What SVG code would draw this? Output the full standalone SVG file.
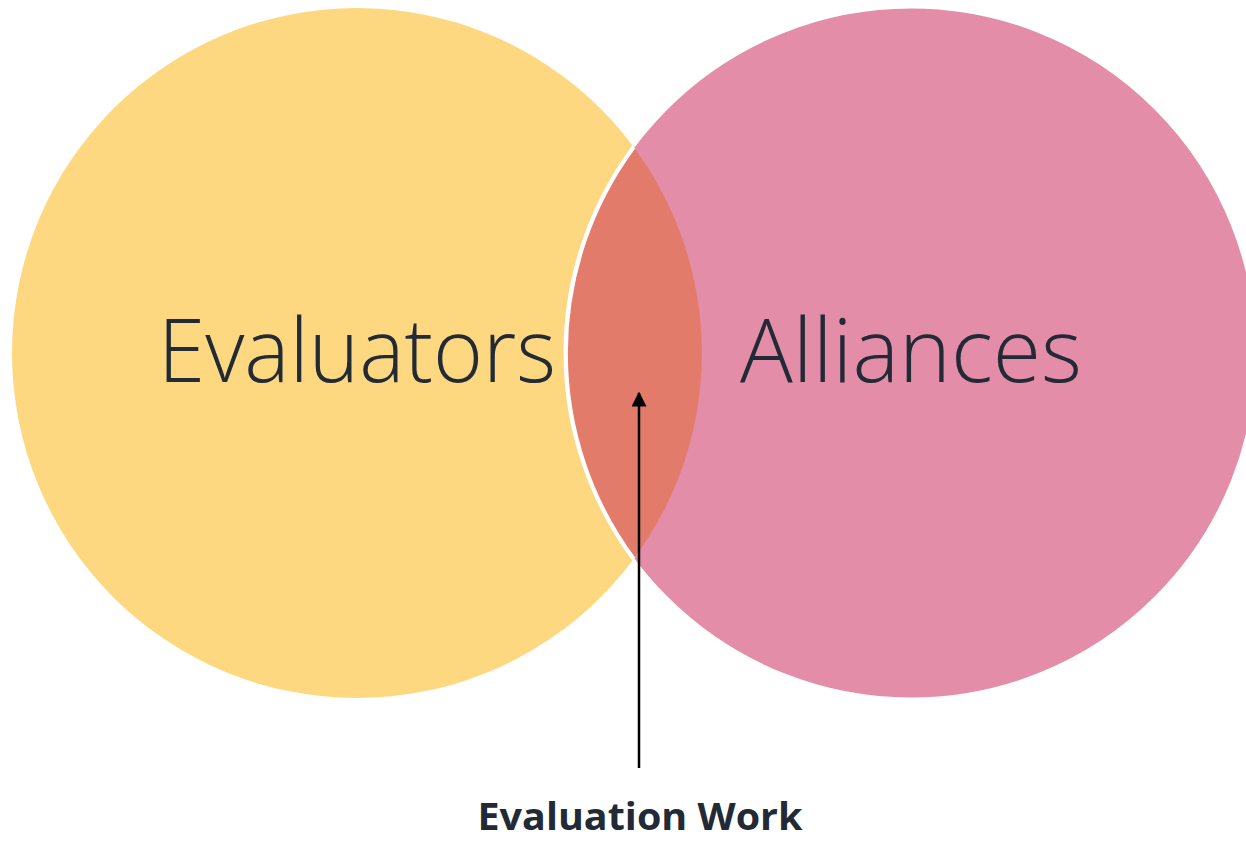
<svg xmlns="http://www.w3.org/2000/svg" width="1246" height="841" viewBox="0 0 1246 841">
<style>
.big{font-family:"Open Sans","Liberation Sans",sans-serif;font-weight:300;font-size:88px;fill:#222A35}
.lbl{font-family:"Open Sans","Liberation Sans",sans-serif;font-weight:700;font-size:38px;fill:#222A35}
</style>
<defs>
<marker id="ah" viewBox="0 0 10 10" refX="9" refY="5" markerWidth="6" markerHeight="6" orient="auto-start-reverse" markerUnits="strokeWidth">
<path d="M0,0 L10,5 L0,10 Z" fill="#000"/>
</marker>
</defs>
<rect width="1246" height="841" fill="#fff"/>
<g id="evaluators">
<circle cx="357" cy="353" r="345" fill="#FDD880"/>
</g>
<g id="alliances">
<circle cx="911" cy="353" r="346" fill="#E38DA9" stroke="#fff" stroke-width="3"/>
</g>
<g id="overlap">
<path d="M634,147.5 A345,345 0 0 1 634,558.5 A346,346 0 0 1 634,147.5 Z" fill="#E37B6A"/>
<path d="M634,147.5 A346,346 0 0 0 634,558.5" fill="none" stroke="#fff" stroke-width="3"/>
</g>
<text class="big" x="357" y="382" text-anchor="middle" textLength="398" lengthAdjust="spacingAndGlyphs">Evaluators</text>
<text class="big" x="911" y="382" text-anchor="middle" textLength="342" lengthAdjust="spacingAndGlyphs">Alliances</text>
<g id="connectors">
<line x1="639" y1="768" x2="639" y2="393" stroke="#000" stroke-width="2.5" marker-end="url(#ah)"/>
</g>
<g id="label">
<text class="lbl" x="640" y="830" text-anchor="middle" textLength="325" lengthAdjust="spacingAndGlyphs">Evaluation Work</text>
</g>
</svg>
